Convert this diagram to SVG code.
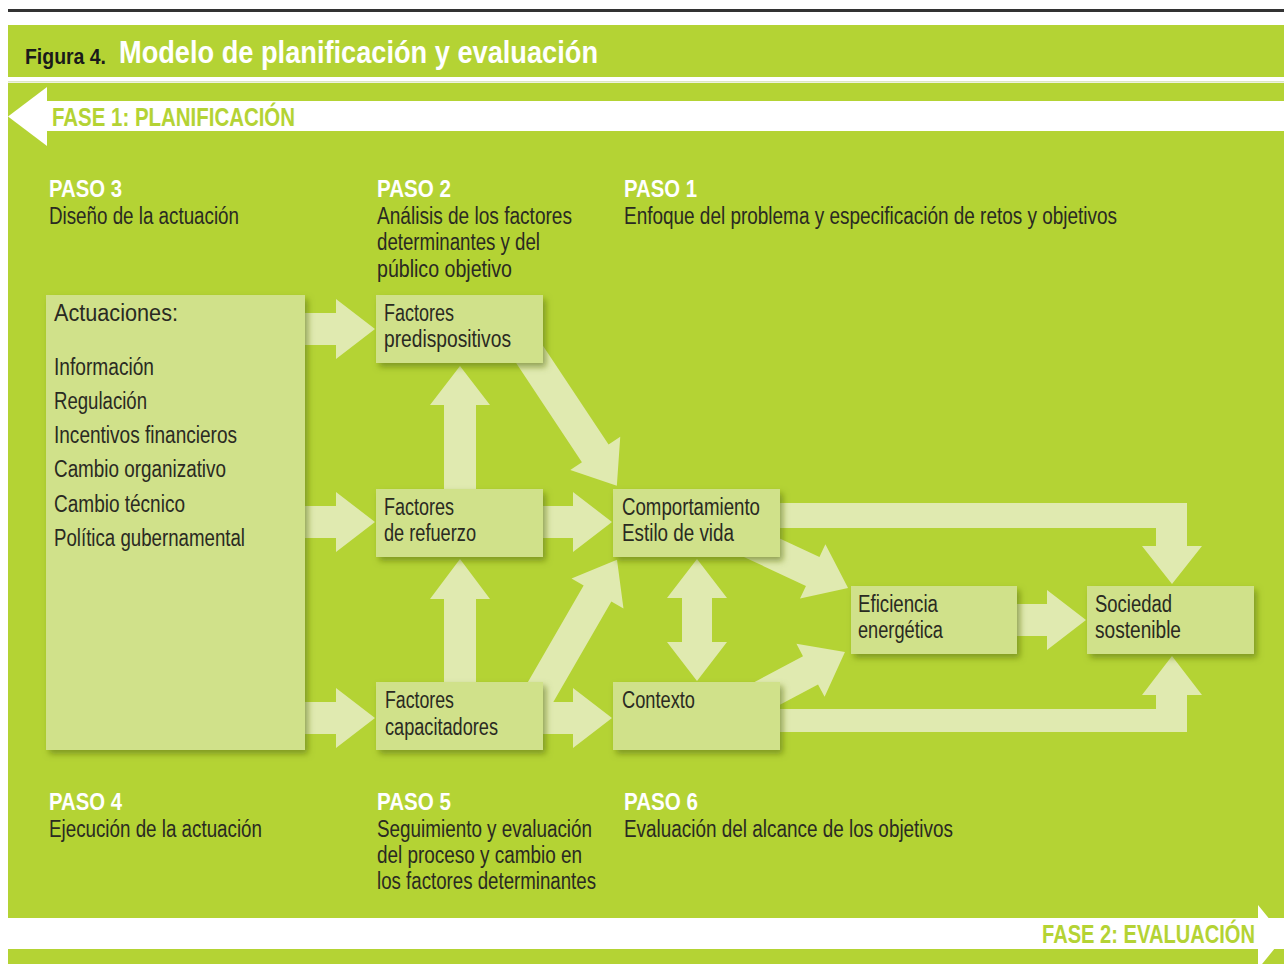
<svg xmlns="http://www.w3.org/2000/svg" width="1284" height="964" viewBox="0 0 1284 964">
<defs>
<filter id="sh" x="-10%" y="-10%" width="125%" height="130%">
<feDropShadow dx="3" dy="4" stdDeviation="3" flood-color="#5f7310" flood-opacity="0.6"/>
</filter>
<style>
.bg{fill:#b4d334}
.wh{fill:#ffffff}
.box{fill:#d0e18a;filter:url(#sh)}
.arr{fill:#e0eab0}
.t{font-family:"Liberation Sans",Arial,sans-serif;font-size:23px;fill:#2a2a22}
.p{font-family:"Liberation Sans",Arial,sans-serif;font-size:23px;font-weight:bold;fill:#ffffff}
.fase{font-family:"Liberation Sans",Arial,sans-serif;font-size:26px;font-weight:bold;fill:#b4d334}
</style>
</defs>
<rect width="1284" height="964" fill="#ffffff"/>
<rect x="8" y="9" width="1276" height="3" fill="#333333"/>
<g id="header">
<rect class="bg" x="8" y="25" width="1276" height="52"/>
<text x="25" y="64" font-family="Liberation Sans,Arial,sans-serif" font-size="22" font-weight="bold" fill="#1a1a1a" textLength="81" lengthAdjust="spacingAndGlyphs">Figura 4.</text>
<text x="119" y="63" font-family="Liberation Sans,Arial,sans-serif" font-size="32" font-weight="bold" fill="#ffffff" textLength="479" lengthAdjust="spacingAndGlyphs">Modelo de planificación y evaluación</text>
</g>
<rect x="8" y="81" width="1276" height="1.5" fill="#dde6c4"/>
<rect class="bg" x="8" y="83" width="1276" height="835"/>
<g id="fase1">
<rect class="wh" x="40" y="101" width="1244" height="30"/>
<polygon class="wh" points="8,116.5 47,87 47,146"/>
<text class="fase" x="52" y="126" textLength="243" lengthAdjust="spacingAndGlyphs">FASE 1: PLANIFICACIÓN</text>
</g>
<g id="fase2">
<rect class="wh" x="8" y="918" width="1255" height="31"/>
<rect class="bg" x="8" y="949" width="1276" height="15"/>
<polygon class="wh" points="1258,905 1284,937 1258,969"/>
<text class="fase" x="1042" y="943" textLength="213" lengthAdjust="spacingAndGlyphs">FASE 2: EVALUACIÓN</text>
</g>

<g id="pasos">
<g id="paso3"><text class="p" x="49" y="197" textLength="73" lengthAdjust="spacingAndGlyphs">PASO 3</text>
<text class="t" x="49" y="224" textLength="190" lengthAdjust="spacingAndGlyphs">Diseño de la actuación</text></g>
<g id="paso2"><text class="p" x="377" y="197" textLength="74" lengthAdjust="spacingAndGlyphs">PASO 2</text>
<text class="t" x="377" y="224" textLength="195" lengthAdjust="spacingAndGlyphs">Análisis de los factores</text>
<text class="t" x="377" y="250" textLength="163" lengthAdjust="spacingAndGlyphs">determinantes y del</text>
<text class="t" x="377" y="277" textLength="135" lengthAdjust="spacingAndGlyphs">público objetivo</text></g>
<g id="paso1"><text class="p" x="624" y="197" textLength="73" lengthAdjust="spacingAndGlyphs">PASO 1</text>
<text class="t" x="624" y="224" textLength="493" lengthAdjust="spacingAndGlyphs">Enfoque del problema y especificación de retos y objetivos</text></g>
<g id="paso4"><text class="p" x="49" y="810" textLength="73" lengthAdjust="spacingAndGlyphs">PASO 4</text>
<text class="t" x="49" y="837" textLength="213" lengthAdjust="spacingAndGlyphs">Ejecución de la actuación</text></g>
<g id="paso5"><text class="p" x="377" y="810" textLength="74" lengthAdjust="spacingAndGlyphs">PASO 5</text>
<text class="t" x="377" y="837" textLength="215" lengthAdjust="spacingAndGlyphs">Seguimiento y evaluación</text>
<text class="t" x="377" y="863" textLength="205" lengthAdjust="spacingAndGlyphs">del proceso y cambio en</text>
<text class="t" x="377" y="889" textLength="219" lengthAdjust="spacingAndGlyphs">los factores determinantes</text></g>
<g id="paso6"><text class="p" x="624" y="810" textLength="74" lengthAdjust="spacingAndGlyphs">PASO 6</text>
<text class="t" x="624" y="837" textLength="329" lengthAdjust="spacingAndGlyphs">Evaluación del alcance de los objetivos</text></g>
</g>

<g id="connectors" class="arr">
<path d="M300,313 H336 V299 L375,329 L336,359 V345 H300 Z"/>
<path d="M300,506 H336 V492 L375,522 L336,552 V538 H300 Z"/>
<path d="M300,702 H336 V688 L375,718 L336,748 V734 H300 Z"/>
<path d="M538,506 H573 V492 L612,522 L573,552 V538 H538 Z"/>
<path d="M538,702 H573 V688 L612,718 L573,748 V734 H538 Z"/>
<path d="M444,492 V405 H430 L460,366 L490,405 H476 V492 Z"/>
<path d="M444,685 V599 H430 L460,559 L490,599 H476 V685 Z"/>
<path d="M1012,604 H1047 V590 L1086,620 L1047,650 V636 H1012 Z"/>
<path d="M682,598 H667 L697,559 L727,598 H712 V642 H727 L697,681 L667,642 H682 Z"/>
<path d="M0,-16 H136 V-30 L175,0 L136,30 V16 H0 Z" transform="translate(520,340) rotate(56.4)"/>
<path d="M0,-16 H123 V-30 L162,0 L123,30 V16 H0 Z" transform="translate(536,700) rotate(-60)"/>
<path d="M0,-16 H81 V-30 L120,0 L81,30 V16 H0 Z" transform="translate(739.3,537.2) rotate(25)"/>
<path d="M0,-16 H81 V-30 L120,0 L81,30 V16 H0 Z" transform="translate(739,708.3) rotate(-28)"/>
<path d="M770,503 H1187 V546 H1202 L1172,584 L1142,546 H1156 V528 H770 Z"/>
<path d="M770,709 H1156 V695 H1142 L1172,656 L1202,695 H1187 V732 H770 Z"/>
</g>

<g id="actuaciones">
<rect class="box" x="46" y="295" width="259" height="455"/>
<text class="t" x="54" y="321" textLength="124" lengthAdjust="spacingAndGlyphs">Actuaciones:</text>
<text class="t" x="54" y="375" textLength="100" lengthAdjust="spacingAndGlyphs">Información</text>
<text class="t" x="54" y="409" textLength="93" lengthAdjust="spacingAndGlyphs">Regulación</text>
<text class="t" x="54" y="443" textLength="183" lengthAdjust="spacingAndGlyphs">Incentivos financieros</text>
<text class="t" x="54" y="477" textLength="172" lengthAdjust="spacingAndGlyphs">Cambio organizativo</text>
<text class="t" x="54" y="512" textLength="131" lengthAdjust="spacingAndGlyphs">Cambio técnico</text>
<text class="t" x="54" y="546" textLength="191" lengthAdjust="spacingAndGlyphs">Política gubernamental</text>
</g>
<g id="predispositivos">
<rect class="box" x="376" y="295" width="167" height="68"/>
<text class="t" x="384" y="321" textLength="70" lengthAdjust="spacingAndGlyphs">Factores</text>
<text class="t" x="384" y="347" textLength="127" lengthAdjust="spacingAndGlyphs">predispositivos</text>
</g>
<g id="refuerzo">
<rect class="box" x="376" y="489" width="167" height="68"/>
<text class="t" x="384" y="515" textLength="70" lengthAdjust="spacingAndGlyphs">Factores</text>
<text class="t" x="384" y="541" textLength="92" lengthAdjust="spacingAndGlyphs">de refuerzo</text>
</g>
<g id="capacitadores">
<rect class="box" x="376" y="682" width="167" height="68"/>
<text class="t" x="385" y="708" textLength="69" lengthAdjust="spacingAndGlyphs">Factores</text>
<text class="t" x="385" y="735" textLength="113" lengthAdjust="spacingAndGlyphs">capacitadores</text>
</g>
<g id="comportamiento">
<rect class="box" x="613" y="489" width="167" height="68"/>
<text class="t" x="622" y="515" textLength="138" lengthAdjust="spacingAndGlyphs">Comportamiento</text>
<text class="t" x="622" y="541" textLength="112" lengthAdjust="spacingAndGlyphs">Estilo de vida</text>
</g>
<g id="contexto">
<rect class="box" x="613" y="682" width="167" height="68"/>
<text class="t" x="622" y="708" textLength="73" lengthAdjust="spacingAndGlyphs">Contexto</text>
</g>
<g id="eficiencia">
<rect class="box" x="851" y="586" width="166" height="68"/>
<text class="t" x="858" y="612" textLength="80" lengthAdjust="spacingAndGlyphs">Eficiencia</text>
<text class="t" x="858" y="638" textLength="85" lengthAdjust="spacingAndGlyphs">energética</text>
</g>
<g id="sociedad">
<rect class="box" x="1087" y="586" width="167" height="68"/>
<text class="t" x="1095" y="612" textLength="77" lengthAdjust="spacingAndGlyphs">Sociedad</text>
<text class="t" x="1095" y="638" textLength="86" lengthAdjust="spacingAndGlyphs">sostenible</text>
</g>
</svg>
